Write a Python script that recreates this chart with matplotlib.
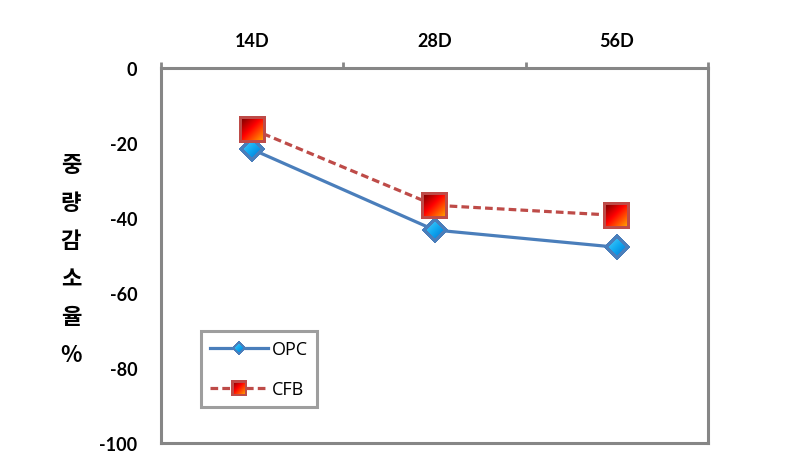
import numpy as np
import matplotlib
matplotlib.use("Agg")
import matplotlib.pyplot as plt
from matplotlib.offsetbox import OffsetImage, AnnotationBbox
from matplotlib.colors import to_rgb

categories = ["14D", "28D", "56D"]
opc = [-21.7, -43.2, -47.8]
cfb = [-16.3, -36.6, -39.3]
yticks = [0, -20, -40, -60, -80, -100]
ylabel_chars = ["중", "량", "감", "소", "율", "%"]

DPI = 100
fig = plt.figure(figsize=(7.87, 4.64), dpi=DPI)
ax = fig.add_axes([161/787, 1-444/464, (708-161)/787, (444-69)/464])

OPC_COL = "#4A7EBB"
CFB_COL = "#BE4B48"
GRAY = "#868686"

x = np.arange(len(categories))
ax.plot(x, opc, color=OPC_COL, lw=2.3, label="OPC", zorder=3)
ax.plot(x, cfb, color=CFB_COL, lw=2.3, ls=(0, (2.4, 1.3)), label="CFB", zorder=3)

ax.set_xlim(-0.5, 2.5)
ax.set_ylim(-100, 0)

for s in ["left", "right", "top", "bottom"]:
    ax.spines[s].set_color(GRAY)
    ax.spines[s].set_linewidth(2.2)

ax.xaxis.tick_top()
ax.set_xticks([-0.5, 0.5, 1.5, 2.5])
ax.set_xticklabels([])
ax.set_xticks(x, minor=True)
ax.set_xticklabels(categories, minor=True, fontfamily="Lato", fontweight="bold", fontsize=13)
ax.tick_params(axis="x", which="major", direction="out", length=4, width=2, color=GRAY, top=True, bottom=False)
ax.tick_params(axis="x", which="minor", length=0, pad=14, top=True, bottom=False)

ax.set_yticks(yticks)
ax.set_yticklabels([str(v) for v in yticks], fontfamily="Lato", fontweight="bold", fontsize=13)
ax.tick_params(axis="y", length=0, pad=17)

for i, ch in enumerate(ylabel_chars):
    ypix = 166 + i * 38
    fig.text(71/787, 1 - ypix/464, ch, ha="center", va="center",
             fontfamily=["Noto Sans CJK KR", "DejaVu Sans"], fontweight="bold", fontsize=16)

leg = ax.legend(loc="lower left", bbox_to_anchor=((201-161)/547, (444-408)/375),
                prop={"family": "Open Sans", "size": 13}, frameon=True, fancybox=False,
                handlelength=3.2, handletextpad=0.25, labelspacing=1.2,
                borderpad=0.5, borderaxespad=0)
leg.get_frame().set_edgecolor(GRAY)
leg.get_frame().set_linewidth(2.2)


def lerp_colors(stops, t):
    t = np.clip(t, 0, 1)
    out = np.zeros(t.shape + (3,))
    pos = [p for p, _ in stops]
    cols = [np.array(to_rgb(c)) for _, c in stops]
    for k in range(3):
        out[..., k] = np.interp(t, pos, [c[k] for c in cols])
    return out


def square_img(n=27, bw=3):
    yy, xx = np.mgrid[0:n, 0:n].astype(float)
    img = np.zeros((n, n, 4))
    t = (xx + yy) / (2 * (n - 1))
    img[..., :3] = lerp_colors([(0, "#600000"), (0.45, "#FF0000"), (1, "#FFC000")], t)
    img[..., 3] = 1
    border = (xx < bw) | (yy < bw) | (xx >= n - bw) | (yy >= n - bw)
    img[border, :3] = to_rgb(CFB_COL)
    return img


def diamond_img(n=26, bw=3.2):
    yy, xx = np.mgrid[0:n, 0:n].astype(float)
    c = (n - 1) / 2
    d = np.abs(xx - c) + np.abs(yy - c)
    r = n / 2
    img = np.zeros((n, n, 4))
    t = (xx + yy) / (2 * (n - 1))
    img[..., :3] = lerp_colors([(0, "#66DDFF"), (0.5, "#10A8F0"), (1, "#0060C8")], t)
    img[..., 3] = (d <= r).astype(float)
    border = (d > r - bw * 1.41) & (d <= r)
    img[border, :3] = to_rgb(OPC_COL)
    return img


SQ = square_img()
DI = diamond_img()
SQ_S = square_img(16, 2.5)
DI_S = diamond_img(14, 1.5)
z = 72 / DPI


def put(img, xy, coords):
    ab = AnnotationBbox(OffsetImage(img, zoom=z, interpolation="nearest"), xy, xycoords=coords,
                        frameon=False, pad=0, box_alignment=(0.5, 0.5), zorder=6,
                        annotation_clip=False)
    fig.add_artist(ab) if coords == "figure pixels" else ax.add_artist(ab)


for xi, v in zip(x, opc):
    put(DI, (xi, v), "data")
for xi, v in zip(x, cfb):
    put(SQ, (xi, v), "data")

fig.canvas.draw()
renderer = fig.canvas.get_renderer()
for h, img in zip(leg.legend_handles, [DI_S, SQ_S]):
    bb = h.get_window_extent(renderer)
    put(img, ((bb.x0 + bb.x1) / 2, (bb.y0 + bb.y1) / 2), "figure pixels")

fig.savefig("out.png", dpi=DPI)
